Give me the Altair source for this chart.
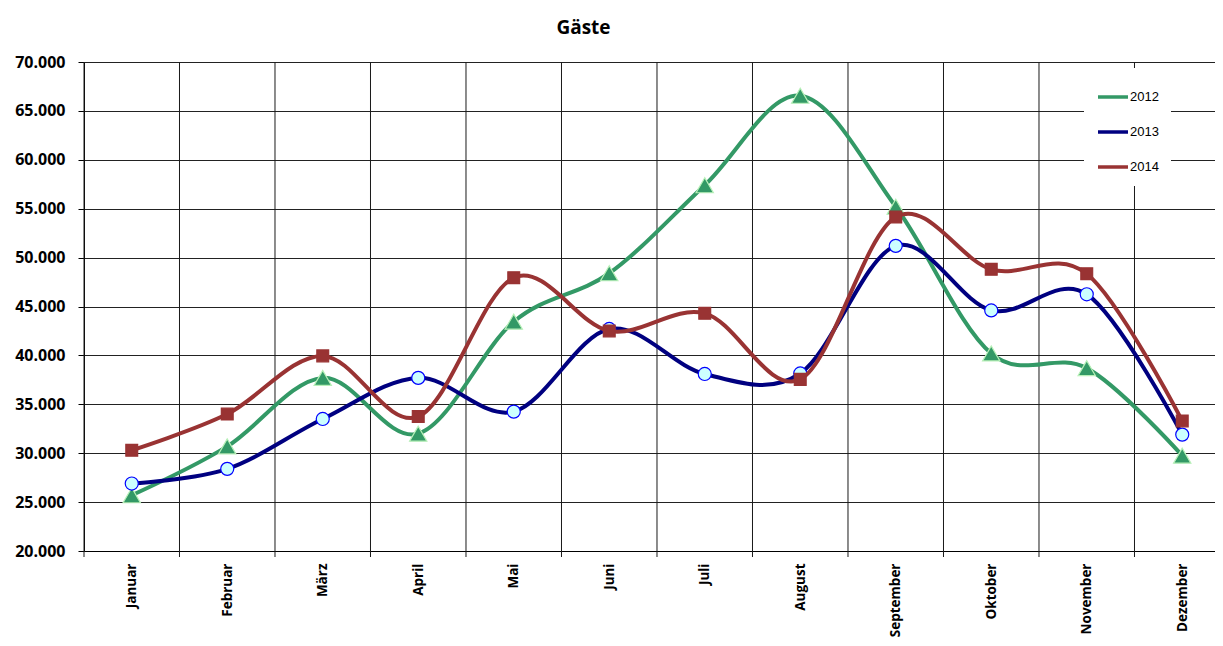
import altair as alt
import pandas as pd

months = ["Januar", "Februar", "März", "April", "Mai", "Juni", "Juli",
          "August", "September", "Oktober", "November", "Dezember"]
years = ["2012", "2013", "2014"]
v2012 = [25700, 30700, 37700, 32000, 43450, 48400, 57400, 66550, 55200, 40200, 38700, 29750]
v2013 = [26900, 28400, 33500, 37700, 34250, 42700, 38100, 38150, 51200, 44600, 46250, 31900]
v2014 = [30300, 34000, 39950, 33750, 47950, 42500, 44300, 37550, 54150, 48800, 48350, 33300]
y_ticks = [20000, 25000, 30000, 35000, 40000, 45000, 50000, 55000, 60000, 65000, 70000]

line_colors = ["#339966", "#000080", "#993333"]
marker_fill = ["#339966", "#ccffff", "#993333"]
marker_stroke = ["#b8f0b8", "#0000ff", "#993333"]
marker_shape = ["triangle-up", "circle", "square"]
marker_size = [300, 170, 140]

series = {"2012": v2012, "2013": v2013, "2014": v2014}
rows = []
for yr in years:
    for i, (m, v) in enumerate(zip(months, series[yr])):
        rows.append({"Monat": m, "pos": i + 0.5, "Jahr": yr, "Gaeste": v})
df = pd.DataFrame(rows)
grid_df = pd.DataFrame({"g": list(range(len(months)))})

x_scale = alt.Scale(domain=[0, 11.843], nice=False, zero=False)
y_scale = alt.Scale(domain=[20000, 70000], nice=False, zero=False)

month_js = "[" + ",".join("'" + m + "'" for m in months) + "]"
x_axis = alt.Axis(values=[i + 0.5 for i in range(len(months))],
                  labelExpr=month_js + "[floor(datum.value)]",
                  labelAngle=-90, labelAlign="right", labelBaseline="middle",
                  labelPadding=12, ticks=False, grid=False, title=None,
                  labelFont="Open Sans", labelFontSize=13.5, labelFontWeight="bold",
                  labelColor="#000000", domainColor="#000000", labelOverlap=False)
y_axis = alt.Axis(values=y_ticks,
                  labelExpr="replace(format(datum.value, ','), ',', '.')",
                  grid=True, gridColor="#222222", gridWidth=1,
                  tickColor="#000000", tickSize=6, domainColor="#000000",
                  labelFont="Open Sans", labelFontSize=16, labelFontWeight="bold",
                  labelColor="#000000", labelPadding=13, title=None)


def xenc(field):
    return alt.X(field, scale=x_scale, axis=x_axis)


def yenc(field):
    return alt.Y(field, scale=y_scale, axis=y_axis)


vgrid = alt.Chart(grid_df).mark_rule(color="#1a1a1a", strokeWidth=1).encode(
    x=xenc("g:Q"), y=alt.value(0), y2=alt.value(495)
)

layers = [vgrid]
for k, yr in enumerate(years):
    sub = df[df["Jahr"] == yr]
    line = alt.Chart(sub).mark_line(interpolate="cardinal", strokeWidth=4).encode(
        x=xenc("pos:Q"), y=yenc("Gaeste:Q"),
        color=alt.Color("Jahr:N", scale=alt.Scale(domain=years, range=line_colors),
                        legend=alt.Legend(title=None, orient="none", legendX=1000, legendY=6,
                                          fillColor="white", padding=12,
                                          symbolType="stroke", symbolSize=900,
                                          symbolStrokeWidth=3.5,
                                          labelFont="Liberation Sans", labelFontSize=13,
                                          labelColor="#000000", labelOffset=0,
                                          rowPadding=11))
    )
    pts = alt.Chart(sub).mark_point(filled=True, opacity=1, shape=marker_shape[k],
                                    fill=marker_fill[k], stroke=marker_stroke[k],
                                    strokeWidth=1.2, size=marker_size[k]).encode(
        x=xenc("pos:Q"), y=yenc("Gaeste:Q")
    )
    layers += [line, pts]

chart = alt.layer(*layers).properties(
    width=1131, height=489,
    padding={"left": 76, "top": 54, "right": 0, "bottom": 87},
    autosize=alt.AutoSizeParams(type="none"),
    title=alt.TitleParams("Gäste", font="Open Sans", fontSize=19, fontWeight="bold",
                          anchor="middle", frame="group", dx=-66, offset=16,
                          color="#000000"),
).configure_view(strokeWidth=0).configure(background="white")

chart.save("out.html", embed_options={"renderer": "svg", "actions": False})
